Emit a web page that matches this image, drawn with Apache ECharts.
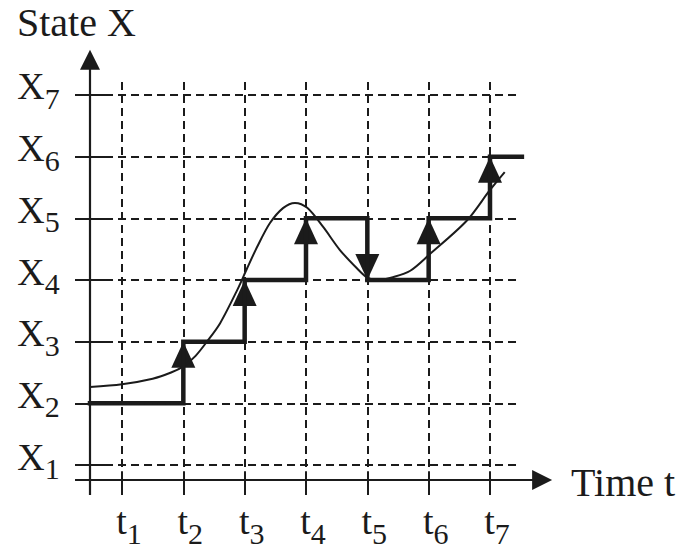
<!DOCTYPE html>
<html><head><meta charset="utf-8">
<script src="https://cdn.jsdelivr.net/npm/echarts@6/dist/echarts.min.js"></script>
<style>html,body{margin:0;padding:0;background:#fff}#c{width:681px;height:550px}</style>
</head><body><div id="c"></div>
<script>
// ---- data ----
const timeTicks = [1, 2, 3, 4, 5, 6, 7];
const timeSubs = ['1', '2', '3', '4', '5', '6', '7'];
const stateTicks = [1, 2, 3, 4, 5, 6, 7];
const stateSubs = ['1', '2', '3', '4', '5', '6', '7'];
// discrete state (step) trajectory: value holds until next time
const stepTimes = [0.478, 2, 3, 4, 5, 6, 7, 7.52];
const stepStates = [2, 3, 4, 5, 4, 5, 6, 6];
// continuous state curve
const curveTimes = [0.478, 1.0, 1.5, 1.8, 2.0, 2.2, 2.4, 2.6, 2.88, 3.04, 3.2, 3.41, 3.63, 3.82, 4.02, 4.28, 4.55, 4.83, 5.0, 5.2, 5.4, 5.7, 6.02, 6.62, 7.0, 7.24];
const curveStates = [2.265, 2.31, 2.40, 2.50, 2.60, 2.77, 3.02, 3.30, 3.84, 4.19, 4.53, 4.92, 5.17, 5.25, 5.17, 4.86, 4.49, 4.19, 4.04, 4.0, 4.04, 4.15, 4.42, 4.96, 5.46, 5.75];
// axis frame extents (in data units)
const axisTimeStart = 0.234, axisTimeOrigin = 0.478, axisTimeEnd = 7.85;
const axisStateStart = 0.514, axisStateOrigin = 0.757, axisStateEnd = 7.57;
const gridTimeEnd = 7.44, gridStateEnd = 7.24;
const tickTimeInner = 0.723, tickStateInner = 0.9;

const FONT = 'Liberation Serif';
const INK = '#1b1b1b';

const stepData = stepTimes.map((t, i) => [t, stepStates[i]]);
const curveData = curveTimes.map((t, i) => [t, curveStates[i]]);
const upArrows = [], downArrows = [];
for (let i = 1; i < stepTimes.length; i++) {
  const d = stepStates[i] - stepStates[i - 1];
  if (d > 0) upArrows.push([stepTimes[i], stepStates[i]]);
  else if (d < 0) downArrows.push([stepTimes[i], stepStates[i]]);
}

const gridLines = [];
stateTicks.forEach(s => gridLines.push([{ coord: [tickTimeInner, s] }, { coord: [gridTimeEnd, s] }]));
timeTicks.forEach(t => gridLines.push([{ coord: [t, axisStateOrigin] }, { coord: [t, gridStateEnd] }]));
const tickLines = [];
stateTicks.forEach(s => tickLines.push([{ coord: [axisTimeStart, s] }, { coord: [tickTimeInner, s] }]));
timeTicks.forEach(t => tickLines.push([{ coord: [t, axisStateStart] }, { coord: [t, tickStateInner] }]));
const axisLines = [
  [{ coord: [axisTimeStart, axisStateOrigin] }, { coord: [axisTimeEnd, axisStateOrigin] }],
  [{ coord: [axisTimeOrigin, axisStateStart] }, { coord: [axisTimeOrigin, axisStateEnd] }]
];

const richLabel = {
  m: { fontFamily: FONT, fontSize: 38, color: INK, lineHeight: 38, verticalAlign: 'top' },
  s: { fontFamily: FONT, fontSize: 30, color: INK, lineHeight: 46, verticalAlign: 'bottom' }
};

const chart = echarts.init(document.getElementById('c'), null, { renderer: 'svg' });
chart.setOption({
  animation: false,
  backgroundColor: '#fff',
  title: [
    { text: 'State X', left: 17, top: 2, padding: 0, textStyle: { fontFamily: FONT, fontSize: 40, fontWeight: 'normal', color: INK } },
    { text: 'Time t', left: 571, top: 462, padding: 0, textStyle: { fontFamily: FONT, fontSize: 40, fontWeight: 'normal', color: INK } }
  ],
  grid: { left: 60.67, right: 129.67, top: 33.33, bottom: 23.33, containLabel: false, outerBoundsMode: 'none' },
  xAxis: {
    type: 'value', min: 0, max: 8, interval: 1,
    axisLine: { show: false }, axisTick: { show: false }, splitLine: { show: false },
    axisLabel: {
      margin: -24.5, padding: [0, 0, 0, 14], hideOverlap: false,
      formatter: v => { const i = timeTicks.indexOf(v); return i < 0 ? '' : '{m|t}{s|' + timeSubs[i] + '}'; },
      rich: richLabel
    }
  },
  yAxis: {
    type: 'value', min: 0, max: 8, interval: 1,
    axisLine: { show: false }, axisTick: { show: false }, splitLine: { show: false },
    axisLabel: {
      margin: 1, padding: [0, 0, 9, 0], hideOverlap: false,
      formatter: v => { const i = stateTicks.indexOf(v); return i < 0 ? '' : '{m|X}{s|' + stateSubs[i] + '}'; },
      rich: richLabel
    }
  },
  series: [
    {
      type: 'line', data: [], silent: true,
      markLine: { silent: true, symbol: 'none', label: { show: false },
        lineStyle: { color: INK, width: 2, type: [8, 5], opacity: 1 }, emphasis: { disabled: true }, data: gridLines }
    },
    {
      type: 'line', data: [], silent: true,
      markLine: { silent: true, symbol: 'none', label: { show: false },
        lineStyle: { color: INK, width: 2, type: 'solid', opacity: 1 }, emphasis: { disabled: true }, data: tickLines }
    },
    {
      type: 'line', data: [], silent: true,
      markLine: { silent: true, symbol: ['none', 'triangle'], symbolSize: [20, 20], label: { show: false },
        lineStyle: { color: INK, width: 2.2, type: 'solid', opacity: 1 }, emphasis: { disabled: true }, data: axisLines }
    },
    {
      type: 'line', data: curveData, smooth: 0.3, showSymbol: false, silent: true,
      lineStyle: { color: INK, width: 2 }
    },
    {
      type: 'line', data: stepData, step: 'end', showSymbol: false, silent: true,
      lineStyle: { color: INK, width: 4.5, cap: 'square', join: 'miter' }
    },
    {
      type: 'scatter', data: upArrows, symbol: 'triangle', symbolSize: [24, 26], symbolOffset: [0, '50%'],
      itemStyle: { color: INK, opacity: 1 }, silent: true
    },
    {
      type: 'scatter', data: downArrows, symbol: 'triangle', symbolSize: [24, 26], symbolRotate: 180, symbolOffset: [0, '-50%'],
      itemStyle: { color: INK, opacity: 1 }, silent: true
    }
  ]
});
</script></body></html>
